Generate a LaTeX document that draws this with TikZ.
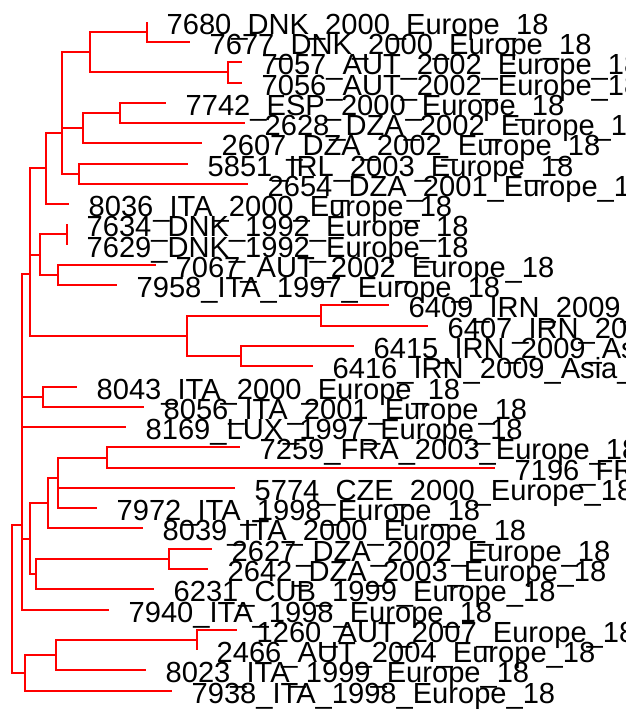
\documentclass[tikz,border=0pt]{standalone}
\usepackage{fontspec}
\setmainfont{Liberation Sans}
\begin{document}
\begin{tikzpicture}[x=1pt,y=-1pt,
  edge/.style={draw=red, line width=2pt},
  lab/.style={anchor=base west, inner sep=0pt, xshift=19.5pt, yshift=-12.7pt,
              font=\fontsize{29.1}{30}\selectfont, text=black}]
\useasboundingbox (0,0) rectangle (625,711);
\clip (0,0) rectangle (625,711);
% tips
\coordinate (t1) at (147,22);
\coordinate (t2) at (190,42);
\coordinate (t3) at (242,62);
\coordinate (t4) at (242,83);
\coordinate (t5) at (166,103);
\coordinate (t6) at (245,123);
\coordinate (t7) at (202,143);
\coordinate (t8) at (188,164);
\coordinate (t9) at (248,184);
\coordinate (t10) at (69,204);
\coordinate (t11) at (67,224);
\coordinate (t12) at (67,245);
\coordinate (t13) at (156,265);
\coordinate (t14) at (117,285);
\coordinate (t15) at (389,305);
\coordinate (t16) at (428,326);
\coordinate (t17) at (354,346);
\coordinate (t18) at (313,366);
\coordinate (t19) at (77,387);
\coordinate (t20) at (144,407);
\coordinate (t21) at (126,427);
\coordinate (t22) at (240,447);
\coordinate (t23) at (495,468);
\coordinate (t24) at (235,488);
\coordinate (t25) at (97,508);
\coordinate (t26) at (143,528);
\coordinate (t27) at (212,549);
\coordinate (t28) at (208,569);
\coordinate (t29) at (154,589);
\coordinate (t30) at (109,610);
\coordinate (t31) at (237,630);
\coordinate (t32) at (197,650);
\coordinate (t33) at (146,670);
\coordinate (t34) at (172,691);
% internal nodes
\coordinate (nA) at (147,32);
\coordinate (nB) at (228,72);
\coordinate (nC) at (90,52);
\coordinate (nF) at (120,113);
\coordinate (nE) at (83,128);
\coordinate (nG) at (79,174);
\coordinate (nD) at (62,133);
\coordinate (nI) at (46,168);
\coordinate (nJ) at (67,234);
\coordinate (nK) at (58,275);
\coordinate (nL) at (40,255);
\coordinate (nO) at (321,316);
\coordinate (nP) at (241,356);
\coordinate (nM) at (187,336);
\coordinate (nN) at (30,274);
\coordinate (nQ) at (43,397);
\coordinate (nR) at (107,458);
\coordinate (nS) at (58,478);
\coordinate (nT) at (48,503);
\coordinate (nU) at (169,559);
\coordinate (nV) at (36,574);
\coordinate (nW) at (30,539);
\coordinate (nX) at (22,525);
\coordinate (nZ) at (197,640);
\coordinate (nAA) at (56,655);
\coordinate (nY) at (25,673);
\coordinate (root) at (12,599);
% edges
\foreach \p/\c in {nA/t1,nA/t2,nB/t3,nB/t4,nC/nA,nC/nB,nF/t5,nF/t6,nE/nF,nE/t7,
  nG/t8,nG/t9,nD/nC,nD/nE,nD/nG,nI/nD,nI/t10,nJ/t11,nJ/t12,nK/t13,nK/t14,
  nL/nJ,nL/nK,nO/t15,nO/t16,nP/t17,nP/t18,nM/nO,nM/nP,nN/nI,nN/nL,nN/nM,
  nQ/t19,nQ/t20,nR/t22,nR/t23,nS/nR,nS/t24,nS/t25,nT/nS,nT/t26,nU/t27,nU/t28,
  nV/nU,nV/t29,nW/nT,nW/nV,nX/nN,nX/nQ,nX/t21,nX/nW,nX/t30,nZ/t31,nZ/t32,
  nAA/nZ,nAA/t33,nY/nAA,nY/t34,root/nX,root/nY}
  \draw[edge] (\p) |- (\c);
% labels
\node[lab] (l1) at (t1) {7680\_DNK\_2000\_Europe\_18};
\node[lab] (l2) at (t2) {7677\_DNK\_2000\_Europe\_18};
\node[lab] (l3) at (t3) {7057\_AUT\_2002\_Europe\_18};
\node[lab] (l4) at (t4) {7056\_AUT\_2002\_Europe\_18};
\node[lab] (l5) at (t5) {7742\_ESP\_2000\_Europe\_18};
\node[lab] (l6) at (t6) {2628\_DZA\_2002\_Europe\_18};
\node[lab] (l7) at (t7) {2607\_DZA\_2002\_Europe\_18};
\node[lab] (l8) at (t8) {5851\_IRL\_2003\_Europe\_18};
\node[lab] (l9) at (t9) {2654\_DZA\_2001\_Europe\_18};
\node[lab] (l10) at (t10) {8036\_ITA\_2000\_Europe\_18};
\node[lab] (l11) at (t11) {7634\_DNK\_1992\_Europe\_18};
\node[lab] (l12) at (t12) {7629\_DNK\_1992\_Europe\_18};
\node[lab] (l13) at (t13) {7067\_AUT\_2002\_Europe\_18};
\node[lab] (l14) at (t14) {7958\_ITA\_1997\_Europe\_18};
\node[lab] (l15) at (t15) {6409\_IRN\_2009\_Asia\_18};
\node[lab] (l16) at (t16) {6407\_IRN\_2009\_Asia\_18};
\node[lab] (l17) at (t17) {6415\_IRN\_2009\_Asia\_18};
\node[lab] (l18) at (t18) {6416\_IRN\_2009\_Asia\_18};
\node[lab] (l19) at (t19) {8043\_ITA\_2000\_Europe\_18};
\node[lab] (l20) at (t20) {8056\_ITA\_2001\_Europe\_18};
\node[lab] (l21) at (t21) {8169\_LUX\_1997\_Europe\_18};
\node[lab] (l22) at (t22) {7259\_FRA\_2003\_Europe\_18};
\node[lab] (l23) at (t23) {7196\_FRA\_2003\_Europe\_18};
\node[lab] (l24) at (t24) {5774\_CZE\_2000\_Europe\_18};
\node[lab] (l25) at (t25) {7972\_ITA\_1998\_Europe\_18};
\node[lab] (l26) at (t26) {8039\_ITA\_2000\_Europe\_18};
\node[lab] (l27) at (t27) {2627\_DZA\_2002\_Europe\_18};
\node[lab] (l28) at (t28) {2642\_DZA\_2003\_Europe\_18};
\node[lab] (l29) at (t29) {6231\_CUB\_1999\_Europe\_18};
\node[lab] (l30) at (t30) {7940\_ITA\_1998\_Europe\_18};
\node[lab] (l31) at (t31) {1260\_AUT\_2007\_Europe\_18};
\node[lab] (l32) at (t32) {2466\_AUT\_2004\_Europe\_18};
\node[lab] (l33) at (t33) {8023\_ITA\_1999\_Europe\_18};
\node[lab] (l34) at (t34) {7938\_ITA\_1998\_Europe\_18};
\end{tikzpicture}
\end{document}
